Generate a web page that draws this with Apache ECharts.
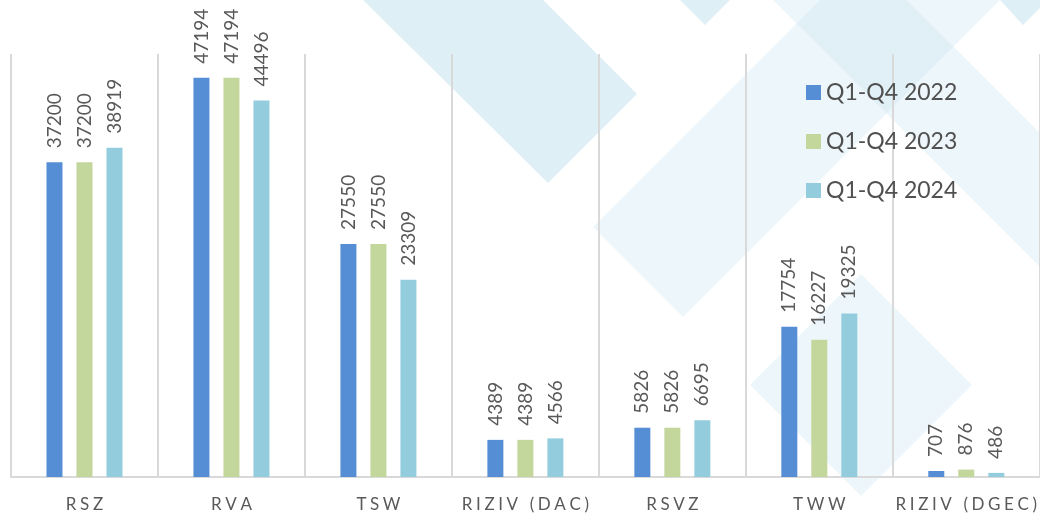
<!DOCTYPE html>
<html>
<head>
<meta charset="utf-8">
<script src="https://cdn.jsdelivr.net/npm/echarts@6/dist/echarts.min.js"></script>
<style>
html, body { margin: 0; padding: 0; background: #fff; }
#chart { width: 1040px; height: 514px; }
</style>
</head>
<body>
<div id="chart"></div>
<script>
const categories = ['RSZ', 'RVA', 'TSW', 'RIZIV (DAC)', 'RSVZ', 'TWW', 'RIZIV (DGEC)'];
const seriesNames = ['Q1-Q4 2022', 'Q1-Q4 2023', 'Q1-Q4 2024'];
const values2022 = [37200, 47194, 27550, 4389, 5826, 17754, 707];
const values2023 = [37200, 47194, 27550, 4389, 5826, 16227, 876];
const values2024 = [38919, 44496, 23309, 4566, 6695, 19325, 486];
const colors = ['#558ed5', '#c3d69b', '#93cddd'];

// decorative background shapes (light blue diamonds behind the plot)
const bgShapes = [
    { pts: [[363, 0], [548, 183], [637, 94], [543, 0]], o: 0.55 },
    { pts: [[680, 0], [705, 25], [730, 0]], o: 0.55 },
    { pts: [[1000, 0], [1023, 25], [1048, 0]], o: 0.55 },
    { pts: [[593, 227], [683, 317], [1000, 0], [820, 0]], o: 0.3 },
    { pts: [[773, 0], [1040, 267], [1040, 133], [907, 0]], o: 0.3 },
    { pts: [[750, 385], [861, 274], [972, 385], [861, 496]], o: 0.3 }
];

let chart = echarts.init(document.getElementById('chart'));

const font = 'Lato, "Liberation Sans", sans-serif';

function barSeries(name, data, color) {
    return {
        name: name,
        type: 'bar',
        data: data,
        barWidth: 16,
        barGap: '87.5%',
        itemStyle: { color: color },
        label: {
            show: true,
            position: 'top',
            rotate: 90,
            align: 'left',
            verticalAlign: 'middle',
            distance: 14,
            color: '#595959',
            fontSize: 19,
            fontFamily: font
        }
    };
}

let option = {
    animation: false,
    color: colors,
    graphic: bgShapes.map(s => ({
        type: 'polygon',
        silent: true,
        z: -10,
        shape: { points: s.pts },
        style: { fill: '#c5e2ef', opacity: s.o }
    })),
    legend: {
        orient: 'vertical',
        left: 801,
        top: 76,
        itemWidth: 15,
        itemHeight: 15,
        itemGap: 26,
        icon: 'rect',
        textStyle: {
            color: '#505050',
            fontSize: 23,
            lineHeight: 23,
            fontFamily: font
        },
        data: seriesNames
    },
    grid: {
        left: 11,
        right: 0,
        top: 54,
        bottom: 37
    },
    xAxis: {
        type: 'category',
        data: categories,
        axisLine: { lineStyle: { color: '#d9d9d9', width: 2 } },
        axisTick: { show: false },
        splitLine: { show: true, interval: 0, lineStyle: { color: '#d9d9d9', width: 2 } },
        axisLabel: {
            interval: 0,
            margin: 19,
            color: '#595959',
            fontSize: 17,
            fontFamily: font,
            formatter: function (v) {
                return v.split('').map(c => '{c|' + c + '}').join('');
            },
            rich: {
                c: { padding: [0, 1.8], color: '#595959', fontSize: 17, fontFamily: font }
            }
        }
    },
    yAxis: {
        type: 'value',
        min: 0,
        max: 50000,
        show: false,
        splitLine: { show: false }
    },
    series: [
        barSeries(seriesNames[0], values2022, colors[0]),
        barSeries(seriesNames[1], values2023, colors[1]),
        barSeries(seriesNames[2], values2024, colors[2])
    ]
};
chart.setOption(option);
</script>
</body>
</html>
